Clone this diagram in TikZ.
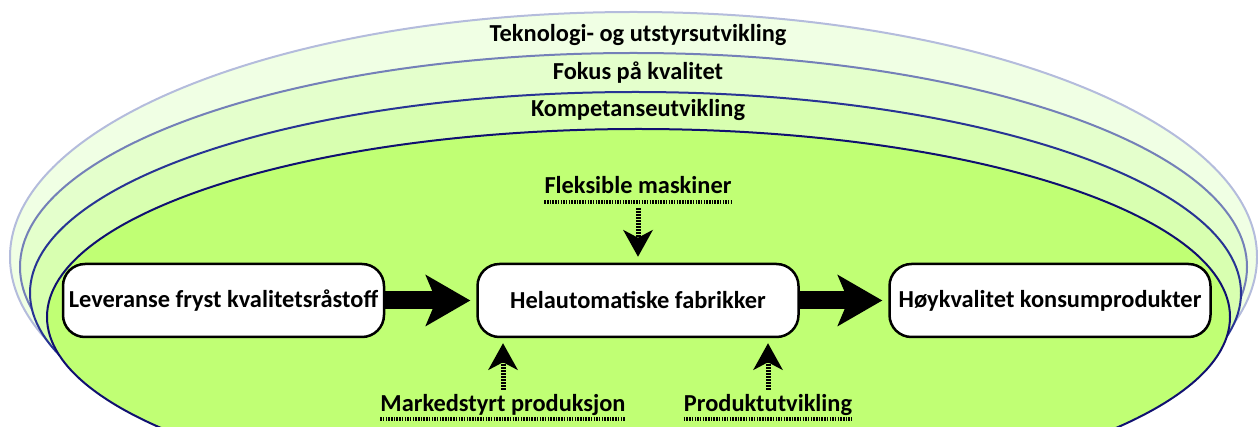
\documentclass[tikz,border=0pt]{standalone}
\usepackage{fontspec}
\setmainfont{Carlito}
\usetikzlibrary{arrows.meta}
\definecolor{fillA}{HTML}{F0FFE4}
\definecolor{lineA}{HTML}{B4BCDC}
\definecolor{fillB}{HTML}{E4FFCC}
\definecolor{lineB}{HTML}{7480B8}
\definecolor{fillC}{HTML}{D8FFB0}
\definecolor{lineC}{HTML}{283494}
\definecolor{fillD}{HTML}{C0FF74}
\definecolor{lineD}{HTML}{101070}
\begin{document}
\begin{tikzpicture}[x=1pt,y=-1pt,
  band/.style={line width=2pt},
  bandlabel/.style={anchor=base, inner sep=0pt, font=\bfseries\fontsize{24.4}{28}\selectfont},
  box/.style={draw, line width=2.5pt, fill=white, rounded corners=22pt,
    minimum width=321pt, minimum height=73pt, inner sep=0pt,
    font=\bfseries\fontsize{24.4}{28}\selectfont},
  sidelabel/.style={anchor=base, inner sep=0pt, text height=18pt, text depth=6pt,
    font=\bfseries\fontsize{24.4}{28}\selectfont},
  underl/.style={line width=4pt, dash pattern=on 1.5pt off 1.2pt},
  bigarrow/.style={line width=18pt, -{Stealth[length=45pt,width=52pt,inset=11pt,line width=0pt]}},
  dotarrow/.style={line width=5pt, dash pattern=on 1.5pt off 1.5pt,
    -{Stealth[length=27pt,width=30pt,inset=8pt,line width=0pt]}}
]
\useasboundingbox (0,0) rectangle (1258,427);
\begin{scope}
\clip (0,0) rectangle (1258,427);
\draw[band, draw=lineA, fill=fillA] (633.5,257) ellipse [x radius=623.5pt, y radius=245pt];
\draw[band, draw=lineB, fill=fillB] (633.5,267) ellipse [x radius=613.5pt, y radius=214pt];
\draw[band, draw=lineC, fill=fillC] (635.5,293) ellipse [x radius=605.5pt, y radius=201pt];
\draw[band, draw=lineD, fill=fillD] (638.5,317) ellipse [x radius=591.5pt, y radius=188pt];
\end{scope}

\node[bandlabel] (tek) at (638,42) {Teknologi- og utstyrsutvikling};
\node[bandlabel] (kval) at (638,80) {Fokus på kvalitet};
\node[bandlabel] (komp) at (638,117) {Kompetanseutvikling};

\node[box] (raw) at (223.5,300.5) {Leveranse fryst kvalitetsråstoff};
\node[box] (fab) at (638,300.5) {Helautomatiske fabrikker};
\node[box] (prod) at (1050,300.5) {Høykvalitet konsumprodukter};

\node[sidelabel] (flex) at (638,194) {Fleksible maskiner};
\node[sidelabel] (mkt) at (503,411) {Markedstyrt produksjon};
\node[sidelabel] (pu) at (768,411) {Produktutvikling};

\foreach \n in {flex,mkt,pu}{
  \draw[underl] ([yshift=-8pt]\n.base west) -- ([yshift=-8pt]\n.base east);
}

\draw[bigarrow, shorten >=6pt] (raw.east) -- (fab.west);
\draw[bigarrow, shorten >=6pt] (fab.east) -- (prod.west);

\draw[dotarrow, shorten <=8pt, shorten >=6pt] (flex.south) -- (flex.south |- fab.north);
\draw[dotarrow, shorten <=3pt, shorten >=5pt] (mkt.north) -- (mkt.north |- fab.south);
\draw[dotarrow, shorten <=3pt, shorten >=5pt] (pu.north) -- (pu.north |- fab.south);
\end{tikzpicture}
\end{document}
